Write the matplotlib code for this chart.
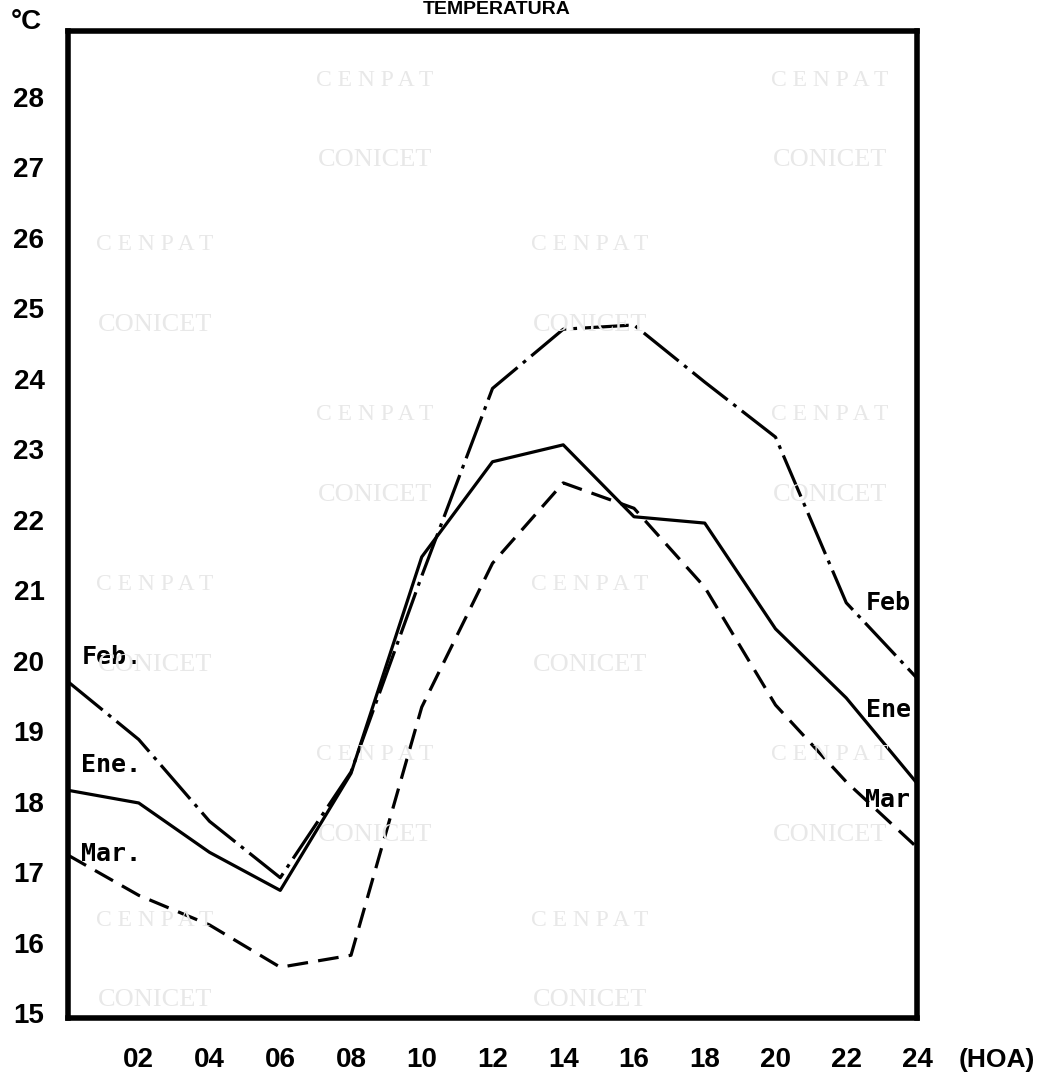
"""Temperatura media horaria: Ene / Feb / Mar (curvas diarias)."""

import matplotlib

matplotlib.use("Agg")
import matplotlib.pyplot as plt

HOURS = [0, 2, 4, 6, 8, 10, 12, 14, 16, 18, 20, 22, 24]
TEMP_FEB = [19.70, 18.88, 17.72, 16.92, 18.42, 21.20, 23.86, 24.70, 24.76, 23.95, 23.17, 20.82, 19.75]
TEMP_ENE = [18.16, 17.98, 17.28, 16.74, 18.40, 21.47, 22.82, 23.06, 22.04, 21.95, 20.45, 19.47, 18.26]
TEMP_MAR = [17.24, 16.67, 16.25, 15.65, 15.82, 19.34, 21.38, 22.52, 22.16, 21.04, 19.37, 18.28, 17.35]

Y_TICKS = [15, 16, 17, 18, 19, 20, 21, 22, 23, 24, 25, 26, 27, 28]
X_TICKS = [2, 4, 6, 8, 10, 12, 14, 16, 18, 20, 22, 24]
X_TICK_LABELS = ["02", "04", "06", "08", "10", "12", "14", "16", "18", "20", "22", "24"]

W, H = 1043, 1079
TICK_FONT = "Liberation Sans"
LABEL_FONT = "DejaVu Sans Mono"

fig = plt.figure(figsize=(W / 100, H / 100), dpi=100)
ax = fig.add_axes([68 / W, 1 - 1018 / H, (917 - 68) / W, (1018 - 31) / H])

# faint scan watermark (only the copies that sit fully inside the page)
for col, x0 in enumerate([155, 375, 590, 830]):
    rows = [245, 585, 920] if col % 2 == 0 else [80, 415, 755]
    for y0 in rows:
        for dy, word, fs in ((0, "C E N P A T", 17), (80, "CONICET", 19)):
            fig.text(x0 / W, 1 - (y0 + dy) / H, word, ha="center", va="center",
                     fontsize=fs, family="Liberation Serif", color="#e8e8e8", zorder=0)

lw = 2.3
ax.plot(HOURS, TEMP_FEB, color="k", lw=lw, ls=(0, (14, 2.2, 1.2, 2.2)), zorder=3)
ax.plot(HOURS, TEMP_ENE, color="k", lw=lw, ls="-", zorder=3)
ax.plot(HOURS, TEMP_MAR, color="k", lw=lw, ls=(0, (6.5, 3.2)), zorder=3)

ax.set_xlim(0, 24)
ax.set_ylim(14.93, 28.93)
ax.set_facecolor("none")
for sp in ax.spines.values():
    sp.set_linewidth(4)

ax.set_yticks(Y_TICKS)
ax.set_yticklabels([str(v) for v in Y_TICKS], family=TICK_FONT, fontweight="bold", fontsize=20)
ax.set_xticks(X_TICKS)
ax.set_xticklabels(X_TICK_LABELS, family=TICK_FONT, fontweight="bold", fontsize=20)
ax.tick_params(axis="y", length=0, pad=17)
ax.tick_params(axis="x", length=0, pad=21)

lab = dict(family=LABEL_FONT, fontweight="bold", fontsize=18, va="center", ha="left", zorder=4)
ax.text(0.38, 20.05, "Feb.", **lab)
ax.text(0.38, 18.52, "Ene.", **lab)
ax.text(0.38, 17.25, "Mar.", **lab)
ax.text(22.55, 20.82, "Feb", clip_on=True, **lab)
ax.text(22.55, 19.30, "Ene", clip_on=True, **lab)
ax.text(22.52, 18.02, "Mar", clip_on=True, **lab)

fig.text(26 / W, 1 - 22 / H, "°C", ha="center", va="center",
         family=TICK_FONT, fontweight="bold", fontsize=20)
fig.text(997 / W, 1 - 1060 / H, "(HOA)", ha="center", va="center",
         family=TICK_FONT, fontweight="bold", fontsize=19)
fig.text(497 / W, 1 - 18 / H, "TEMPERATURA", ha="center", va="bottom",
         family=TICK_FONT, fontweight="bold", fontsize=14)

fig.savefig("out.png", dpi=100, facecolor="white")
